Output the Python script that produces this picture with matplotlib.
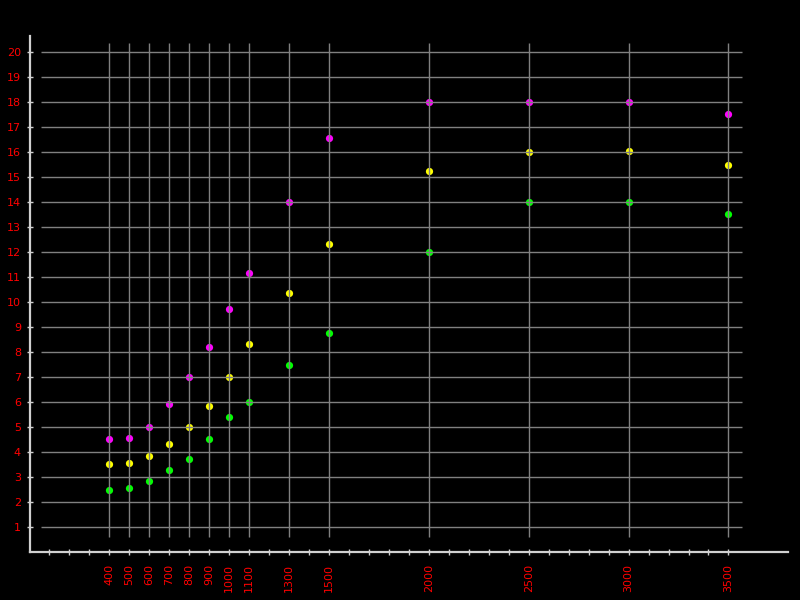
import matplotlib
matplotlib.use("Agg")
import matplotlib.pyplot as plt

x_vals = [400, 500, 600, 700, 800, 900, 1000, 1100, 1300, 1500, 2000, 2500, 3000, 3500]
magenta_vals = [4.52, 4.55, 5.0, 5.91, 7.0, 8.2, 9.72, 11.16, 14.0, 16.56, 18.0, 18.0, 18.0, 17.51]
yellow_vals = [3.51, 3.55, 3.83, 4.31, 5.0, 5.83, 7.0, 8.32, 10.36, 12.32, 15.23, 16.0, 16.04, 15.47]
green_vals = [2.47, 2.55, 2.83, 3.27, 3.71, 4.51, 5.39, 6.0, 7.48, 8.76, 12.0, 14.0, 14.0, 13.51]
y_ticks = list(range(1, 21))
minor_x = list(range(100, 3600, 100))

fig = plt.figure(figsize=(8, 6), dpi=100, facecolor="black")
ax = fig.add_axes([30/800, 48/600, 758/800, 516/600], facecolor="black")

ax.set_xlim(4, 3798)
ax.set_ylim(0, 20.64)

# grid (drawn on top of markers, limited extent)
ax.hlines(y_ticks, 60, 3570, colors="#808080", linewidth=1, zorder=3)
ax.vlines(x_vals, 0.6, 20.36, colors="#808080", linewidth=1, zorder=3)

ms = 5.2
ax.plot(x_vals, magenta_vals, "o", color="#ff00ff", markersize=ms, markeredgewidth=0, zorder=2)
ax.plot(x_vals, yellow_vals, "o", color="#ffff00", markersize=ms, markeredgewidth=0, zorder=2)
ax.plot(x_vals, green_vals, "o", color="#00ff00", markersize=ms, markeredgewidth=0, zorder=2)

for s in ["top", "right"]:
    ax.spines[s].set_visible(False)
for s in ["left", "bottom"]:
    ax.spines[s].set_color("#d0d0d0")
    ax.spines[s].set_linewidth(1.6)

ax.set_yticks(y_ticks)
ax.set_yticklabels([str(v) for v in y_ticks])
ax.set_xticks(x_vals)
ax.set_xticklabels([str(v) for v in x_vals], rotation=90)
ax.set_xticks(minor_x, minor=True)

ax.tick_params(axis="both", which="both", direction="inout", length=5, width=1,
               color="#d0d0d0", labelcolor="#ff0000", labelsize=8)
ax.tick_params(axis="x", which="major", pad=6)
ax.tick_params(axis="y", which="major", pad=4)

fig.savefig("out.png", dpi=100, facecolor="black")
